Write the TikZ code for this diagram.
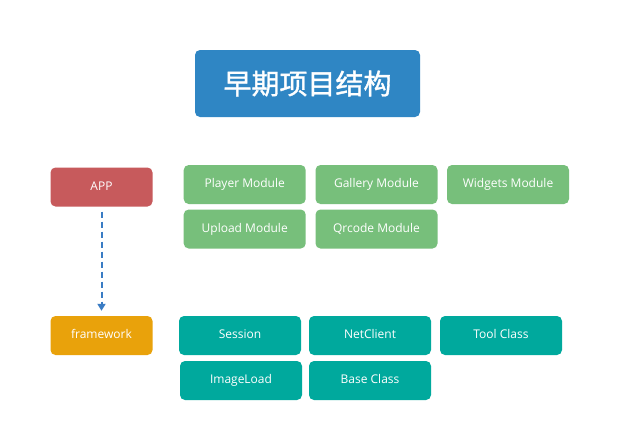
\documentclass[tikz,border=0pt]{standalone}
\usepackage{fontspec}
\setmainfont{Open Sans}
\newfontfamily\cjk{Noto Sans CJK SC}[FakeBold=1.3]
\usetikzlibrary{arrows.meta}
\definecolor{cblue}{HTML}{2F86C4}
\definecolor{cred}{HTML}{C75A5C}
\definecolor{cgreen}{HTML}{77BF7B}
\definecolor{cteal}{HTML}{00A99D}
\definecolor{corange}{HTML}{E9A20B}
\definecolor{carrow}{HTML}{3A7CC4}
\begin{document}
\begin{tikzpicture}[x=1pt,y=-1pt,
  box/.style={rounded corners=5pt, inner sep=0pt, minimum height=39pt, text=white, text height=9pt, text depth=2.5pt, font=\fontsize{12}{14}\selectfont},
  appbox/.style={box, fill=cred, minimum width=102pt},
  fwbox/.style={box, fill=corange, minimum width=102pt},
  modbox/.style={box, fill=cgreen, minimum width=122pt},
  clsbox/.style={box, fill=cteal, minimum width=122pt},
  dasharrow/.style={draw=carrow, line width=2pt, dash pattern=on 6pt off 4pt, -{Triangle[length=7pt,width=8pt]}}
]
\useasboundingbox (0,0) rectangle (617,447);
\fill[white] (0,0) rectangle (617,447);
\node[rounded corners=5pt, inner sep=0pt, text=white, fill=cblue, minimum width=225pt, minimum height=67pt, font=\cjk\fontsize{28}{30}\selectfont] (title) at (307.5,83.5) {早期项目结构};
\node[appbox] (app) at (101.5,187) {APP};
\node[modbox] (player) at (244.7,184.5) {Player Module};
\node[modbox] (gallery) at (376.5,184.5) {Gallery Module};
\node[modbox] (widgets) at (508,184.5) {Widgets Module};
\node[modbox] (upload) at (244.7,229) {Upload Module};
\node[modbox] (qrcode) at (376.5,229) {Qrcode Module};
\node[fwbox] (fw) at (101.5,335.5) {framework};
\node[clsbox] (session) at (240,335.5) {Session};
\node[clsbox] (net) at (370,335.5) {NetClient};
\node[clsbox] (tool) at (501,335.5) {Tool Class};
\node[clsbox] (image) at (241,380.5) {ImageLoad};
\node[clsbox] (base) at (370,380.5) {Base Class};
\draw[dasharrow, shorten <=5pt, shorten >=5pt] (app.south) -- (fw.north);
\end{tikzpicture}
\end{document}
